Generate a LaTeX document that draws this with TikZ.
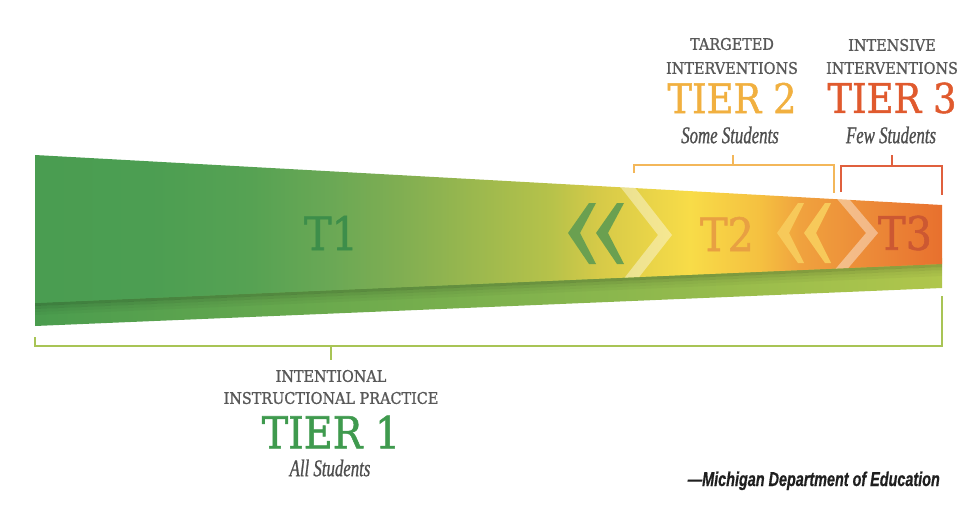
\documentclass[tikz,border=0pt]{standalone}
\usepackage{fontspec}
\usepackage{tikz}
\usetikzlibrary{calc}
\usepackage{color}
\newfontfamily\slab[FakeStretch=0.9,FakeBold=1.2]{DejaVu Serif}
\newfontfamily\kursiv[FakeStretch=0.7,FakeBold=0.8]{Liberation Serif}
\newfontfamily\quelle[FakeStretch=0.72,FakeBold=0.6]{Liberation Sans}
\definecolor{grauText}{RGB}{88,88,88}
\definecolor{grauKursiv}{RGB}{78,78,78}
\definecolor{gruenT1}{RGB}{63,154,78}
\definecolor{gelbT2}{RGB}{241,176,64}
\definecolor{rotT3}{RGB}{224,90,46}
\definecolor{gruenBand}{RGB}{61,142,74}
\definecolor{orangeBand}{RGB}{232,160,66}
\definecolor{rotBand}{RGB}{204,88,50}
\definecolor{gruenKlammer}{RGB}{168,196,85}
\definecolor{gelbKlammer}{RGB}{243,183,90}
\definecolor{rotKlammer}{RGB}{224,96,62}
\definecolor{chevGruen}{RGB}{106,160,80}
\definecolor{chevGelb}{RGB}{247,201,90}
\definecolor{streifenL}{RGB}{74,156,78}
\definecolor{streifenR}{RGB}{176,198,76}
\definecolor{b0}{RGB}{74,157,81}
\definecolor{b1}{RGB}{76,158,82}
\definecolor{b2}{RGB}{86,162,83}
\definecolor{b3}{RGB}{106,168,85}
\definecolor{b4}{RGB}{128,174,82}
\definecolor{b5}{RGB}{182,194,74}
\definecolor{b6}{RGB}{214,202,72}
\definecolor{b7}{RGB}{248,220,72}
\definecolor{b8}{RGB}{245,192,64}
\definecolor{b9}{RGB}{240,162,62}
\definecolor{b10}{RGB}{236,138,56}
\definecolor{b11}{RGB}{232,112,46}
\pgfdeclarehorizontalshading{bandverlauf}{100bp}{color(0bp)=(b0); color(25bp)=(b0);
 color(31.3bp)=(b1); color(36.9bp)=(b2); color(41.3bp)=(b3); color(45.1bp)=(b4);
 color(53.4bp)=(b5); color(56.1bp)=(b6); color(61.1bp)=(b7); color(65bp)=(b8);
 color(67.2bp)=(b9); color(71bp)=(b10); color(75bp)=(b11); color(100bp)=(b11)}
\tikzstyle{graulabel} = [text=grauText,font=\slab\fontsize{16}{16}\selectfont,inner sep=0pt]
\tikzstyle{tierlabel} = [font=\slab\fontsize{41}{41}\selectfont,inner sep=0pt]
\tikzstyle{schueler} = [text=grauKursiv,font=\kursiv\itshape\fontsize{24}{24}\selectfont,inner sep=0pt]
\tikzstyle{bandlabel} = [font=\slab\fontsize{46}{46}\selectfont,inner sep=0pt]
\tikzstyle{klammer} = [line width=1.6pt]
\tikzstyle{pfeilweiss} = [fill=white,fill opacity=0.4]

\begin{document}
\begin{tikzpicture}[x=1pt,y=-1pt]
\useasboundingbox (0,0) rectangle (973,506);
% unterer Streifen und Schatten
\shade[left color=streifenL,right color=streifenR] (35,295) -- (942,258) -- (942,288) -- (35,326) -- cycle;
\fill[black,opacity=0.18] (35,303) -- (942,264) -- (942,267) -- (35,306) -- cycle;
\fill[black,opacity=0.11] (35,306) -- (942,267) -- (942,270) -- (35,309) -- cycle;
\fill[black,opacity=0.06] (35,309) -- (942,270) -- (942,273) -- (35,312) -- cycle;
\fill[black,opacity=0.03] (35,312) -- (942,273) -- (942,276) -- (35,315) -- cycle;
% Band
\shade[shading=bandverlauf] (35,155) -- (942,205) -- (942,264) -- (35,303) -- cycle;
\begin{scope}
\clip (35,155) -- (942,205) -- (942,264) -- (35,303) -- cycle;
\fill[chevGruen] (568,233) -- (589,203) -- (596,203) -- (580,233) -- (596,264) -- (589,264) -- cycle;
\fill[chevGruen] (596,233) -- (617,203) -- (624,203) -- (608,233) -- (624,264) -- (617,264) -- cycle;
\fill[pfeilweiss] (615,180) -- (629,180) -- (672,235) -- (629,290) -- (615,290) -- (658,235) -- cycle;
\fill[chevGelb] (777,233) -- (798,203) -- (804,203) -- (789,233) -- (804,263) -- (798,263) -- cycle;
\fill[chevGelb] (804,233) -- (825,203) -- (831,203) -- (816,233) -- (831,263) -- (825,263) -- cycle;
\fill[pfeilweiss] (829.5,190) -- (841.5,190) -- (878,233) -- (841.5,276) -- (829.5,276) -- (866,233) -- cycle;
\end{scope}
\node[bandlabel,text=gruenBand] (t1) at (331,233) {T1};
\node[bandlabel,text=orangeBand] (t2) at (727,234) {T2};
\node[bandlabel,text=rotBand] (t3) at (905,233) {T3};
% Klammern
\draw[klammer,draw=gelbKlammer] (634,173) -- (634,165) -- (834,165) -- (834,193);
\draw[klammer,draw=gelbKlammer] (733,165) -- (733,155);
\draw[klammer,draw=rotKlammer] (841,192) -- (841,166) -- (942,166) -- (942,195);
\draw[klammer,draw=rotKlammer] (892,166) -- (892,155);
\draw[klammer,draw=gruenKlammer] (35,337) -- (35,346) -- (942,346) -- (942,296);
\draw[klammer,draw=gruenKlammer] (331,346) -- (331,360);
% Tier 2
\node[graulabel] (ziel) at (732,44) {TARGETED};
\node[graulabel] (zielint) at (732,68) {INTERVENTIONS};
\node[tierlabel,text=gelbT2] (tier2) at (732,98) {TIER 2};
\node[schueler] (einige) at (730,135) {Some Students};
% Tier 3
\node[graulabel] (intensiv) at (892,45) {INTENSIVE};
\node[graulabel] (intensivint) at (892,68) {INTERVENTIONS};
\node[tierlabel,text=rotT3] (tier3) at (892,98) {TIER 3};
\node[schueler] (wenige) at (891,135) {Few Students};
% Tier 1
\node[graulabel] (absicht) at (331,376) {INTENTIONAL};
\node[graulabel] (praxis) at (331,398) {INSTRUCTIONAL PRACTICE};
\node[tierlabel,text=gruenT1,font=\slab\fontsize{44}{44}\selectfont] (tier1) at (331,432) {TIER 1};
\node[schueler] (alle) at (330,468) {All Students};
\node[anchor=base east,inner sep=0pt,text=black!88,font=\quelle\bfseries\itshape\fontsize{20}{20}\selectfont] (quelle) at (940,486) {—Michigan Department of Education};

\end{tikzpicture}
\end{document}
